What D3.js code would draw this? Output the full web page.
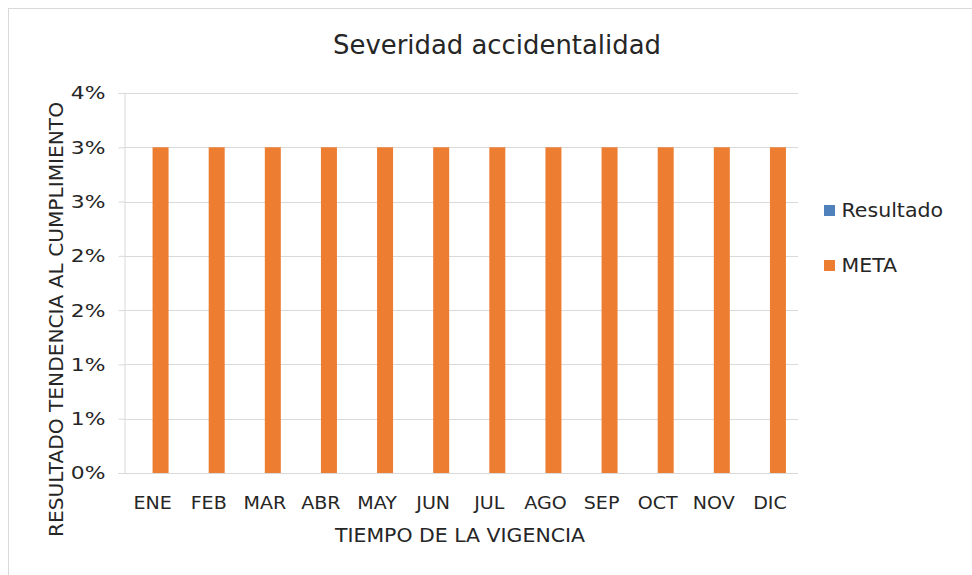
<!DOCTYPE html>
<html>
<head>
<meta charset="utf-8">
<script src="https://cdn.jsdelivr.net/npm/d3@7"></script>
<style>
  html, body { margin: 0; padding: 0; background: #fff; }
  svg { display: block; }
  text { font-family: "Century Gothic", "URW Gothic", "DejaVu Sans", sans-serif; fill: #262626; }
</style>
</head>
<body>
<svg id="chart" width="972" height="575"></svg>
<script>
const months = ["ENE","FEB","MAR","ABR","MAY","JUN","JUL","AGO","SEP","OCT","NOV","DIC"];
const resultado = [0,0,0,0,0,0,0,0,0,0,0,0];
const meta = [0.03,0.03,0.03,0.03,0.03,0.03,0.03,0.03,0.03,0.03,0.03,0.03];
const yTickValues = [0,0.005,0.01,0.015,0.02,0.025,0.03,0.035];
const yTickLabels = ["0%","1%","1%","2%","2%","3%","3%","4%"];
const seriesNames = ["Resultado","META"];
const seriesColors = ["#4F81BD","#ED7D31"];

const FONT = '"Century Gothic","URW Gothic","DejaVu Sans",sans-serif';
function stretch(sel, factor) {
  sel.each(function() {
    const w = this.getComputedTextLength();
    d3.select(this).attr("textLength", w * factor).attr("lengthAdjust", "spacingAndGlyphs");
  });
}
function fitTo(sel, width) {
  sel.attr("textLength", width).attr("lengthAdjust", "spacingAndGlyphs");
}

const svg = d3.select("#chart");
svg.append("rect").attr("x",8.5).attr("y",8.5).attr("width",980).attr("height",580)
  .attr("fill","#fff").attr("stroke","#d9d9d9").attr("stroke-width",1);

const plot = {left: 124.5, right: 798, top: 93, bottom: 473};
const x = d3.scaleBand().domain(months).range([plot.left, plot.right]).paddingInner(0.43).paddingOuter(0.215);
const xs = d3.scaleBand().domain(seriesNames).range([0, x.bandwidth()]);
const y = d3.scaleLinear().domain([0,0.035]).range([plot.bottom, plot.top]);

// gridlines
svg.append("g").selectAll("line").data(yTickValues.slice(1)).join("line")
  .attr("x1", plot.left).attr("x2", plot.right)
  .attr("y1", d => Math.round(y(d))+0.5).attr("y2", d => Math.round(y(d))+0.5)
  .attr("stroke","#d9d9d9").attr("stroke-width",1);

// y axis
const yAxis = d3.axisLeft(y).tickValues(yTickValues).tickFormat((d,i)=>yTickLabels[i]).tickSize(6).tickPadding(13);
const gy = svg.append("g").attr("transform",`translate(${Math.round(plot.left)-0.5},0)`).call(yAxis);
gy.select(".domain").attr("stroke","#d9d9d9");
gy.selectAll(".tick line").attr("stroke","#d9d9d9");
gy.selectAll(".tick text").attr("font-size",18.5).attr("fill","#262626").style("font-family",FONT);
stretch(gy.selectAll(".tick text"), 1.18);

// bars
const series = [resultado, meta];
series.forEach((vals, si) => {
  svg.append("g").selectAll("rect").data(vals).join("rect")
    .attr("x",(d,i)=>x(months[i]) + xs(seriesNames[si]))
    .attr("width", xs.bandwidth())
    .attr("y", d=>y(d)).attr("height", d=>y(0)-y(d))
    .attr("fill", seriesColors[si]);
});

// x axis
const xAxis = d3.axisBottom(x).tickSize(0).tickPadding(20);
const gx = svg.append("g").attr("transform",`translate(0,${plot.bottom}.5)`).call(xAxis);
gx.select(".domain").attr("stroke","#d9d9d9").attr("d",`M${plot.left},0H${plot.right}`);
gx.selectAll(".tick text").attr("font-size",18.5).attr("fill","#262626").style("font-family",FONT)
  .attr("dy", null).attr("y", 35);
stretch(gx.selectAll(".tick text"), 1.03);

// titles
svg.append("text").attr("x",497).attr("y",53.5).attr("text-anchor","middle")
  .attr("font-size",26).text("Severidad accidentalidad").call(fitTo, 328);
svg.append("text").attr("x",460).attr("y",542).attr("text-anchor","middle")
  .attr("font-size",19).text("TIEMPO DE LA VIGENCIA").call(fitTo, 250);
svg.append("text").attr("transform","translate(63,319.5) rotate(-90)").attr("text-anchor","middle")
  .attr("font-size",19).text("RESULTADO TENDENCIA AL CUMPLIMIENTO").call(fitTo, 435);

// legend
const legend = svg.append("g");
seriesNames.forEach((name, i) => {
  const ly = 205 + i*55;
  legend.append("rect").attr("x",824).attr("y",ly).attr("width",11).attr("height",11).attr("fill",seriesColors[i]);
  const t = legend.append("text").attr("x",841.5).attr("y",ly+12).attr("font-size",19).text(name);
  stretch(t, 1.08);
});
</script>
</body>
</html>
